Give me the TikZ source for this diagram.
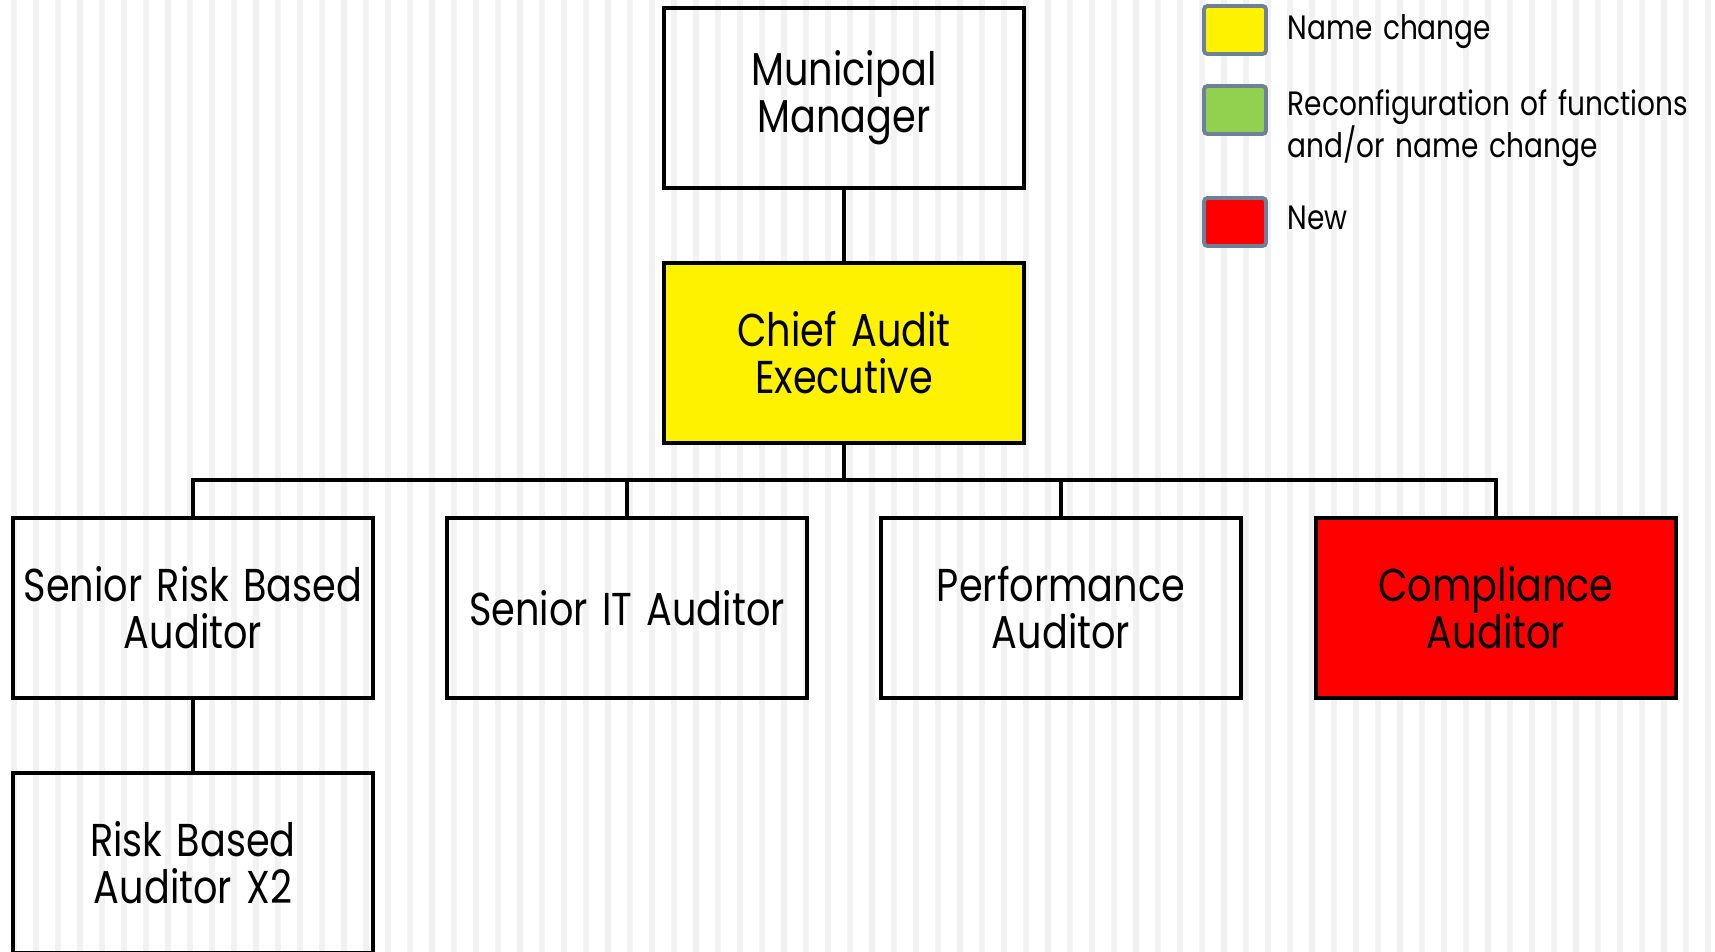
\documentclass[tikz,border=0pt]{standalone}
\usepackage{fontspec}
\setmainfont{Poppins}[FakeStretch=0.83,WordSpace=1.4]

\definecolor{stripe}{HTML}{F2F2F2}
\definecolor{keyblue}{HTML}{6D8299}
\definecolor{leafgreen}{HTML}{92D050}

\begin{document}
\begin{tikzpicture}[x=0.01cm,y=-0.01cm,
    post/.style={draw,line width=1.15pt,minimum width=3.59cm,minimum height=1.79cm,
      inner sep=0pt,align=center,font=\fontsize{13.1}{13.4}\selectfont},
    key/.style={draw=keyblue,line width=1.1pt,rounded corners=1pt,
      minimum width=0.62cm,minimum height=0.48cm,inner sep=0pt},
    keytext/.style={anchor=west,align=left,inner sep=0pt,
      font=\fontsize{9.6}{11.9}\selectfont},
    link/.style={line width=1.15pt}]
  \useasboundingbox (0,0) rectangle (1715,952);
  % striped backdrop
  \foreach \i in {0,...,77}
    \fill[stripe] (11+22*\i,0) rectangle ++(6,952);

  % posts
  \node[post] (mm) at (844,98) {Municipal\\Manager};
  \node[post,fill=yellow] (cae) at (844,353) {Chief Audit\\Executive};
  \node[post] (srba) at (193,608) {Senior Risk Based\\Auditor};
  \node[post] (sita) at (627,608) {Senior IT Auditor};
  \node[post] (pa) at (1061,608) {Performance\\Auditor};
  \node[post,fill=red] (ca) at (1496,608) {Compliance\\Auditor};
  \node[post] (rba) at (193,863) {Risk Based\\Auditor X2};

  % reporting lines
  \coordinate (bus) at (844,480);
  \draw[link] (mm) -- (cae);
  \draw[link] (cae) -- (bus);
  \foreach \n in {srba,sita,pa,ca}
    \draw[link] (bus) -| (\n);
  \draw[link] (srba) -- (rba);

  % key
  \node[key,fill=yellow] (kname) at (1235,30) {};
  \node[key,fill=leafgreen] (kreconf) at (1235,110) {};
  \node[key,fill=red] (knew) at (1235,222) {};
  \node[keytext] (tname) at (1287,32) {Name change};
  \node[keytext] (treconf) at (1287,128) {Reconfiguration of functions\\and/or name change};
  \node[keytext] (tnew) at (1287,218) {New};
\end{tikzpicture}
\end{document}
